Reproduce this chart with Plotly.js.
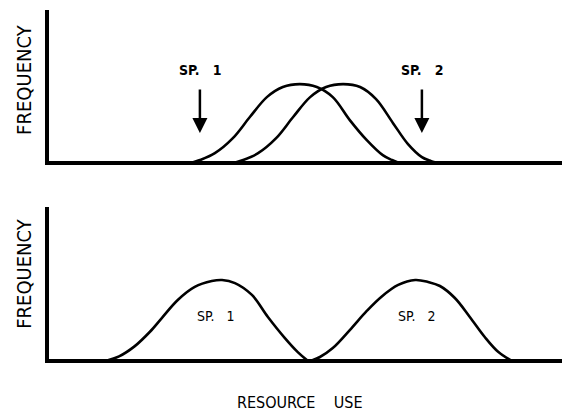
<!DOCTYPE html>
<html lang="en">
<head>
    <meta charset="UTF-8">
    <title>Resource Use Overlap</title>
    <script src="https://cdn.plot.ly/plotly-3.0.1.min.js"></script>
    <style>
        body { margin: 0; padding: 0; background: white; }
        #plot { width: 562px; height: 412px; }
    </style>
</head>
<body>
    <div id="plot"></div>
    <script>
        // top panel: strong overlap (arbitrary resource / frequency units)
        const topSp1X = [27.8, 29.7, 32.6, 36.1, 39.4, 42.7, 45.8, 49.1, 52.4, 55.5, 58.8, 62.1, 65.2, 67.0, 68.5];
        const topSp1Y = [0, 0.2, 0.65, 1.63, 3.01, 4.31, 4.97, 5.16, 4.97, 4.31, 2.81, 1.5, 0.52, 0.2, 0];
        const topSp2X = [36.1, 38.1, 41.0, 44.5, 47.8, 51.1, 54.2, 57.5, 60.8, 63.9, 67.2, 70.1, 72.8, 74.6, 75.9];
        const topSp2Y = [0, 0.2, 0.65, 1.63, 3.01, 4.31, 4.97, 5.16, 4.97, 4.18, 2.61, 1.24, 0.39, 0.13, 0];

        // bottom panel: separated niches
        const botSp1X = [11.3, 14.0, 17.0, 20.0, 22.3, 25.4, 28.7, 32.0, 34.0, 36.5, 39.8, 42.9, 46.2, 48.7, 50.7];
        const botSp1Y = [0, 0.3, 0.95, 1.9, 2.79, 3.96, 4.81, 5.19, 5.26, 5.06, 4.29, 2.86, 1.49, 0.58, 0];
        const botSp2X = [51.1, 53.0, 55.5, 58.8, 62.1, 64.9, 68.2, 71.5, 74.0, 76.3, 79.2, 82.1, 85.0, 87.6, 90.3];
        const botSp2Y = [0, 0.26, 0.84, 2.01, 3.25, 4.16, 4.94, 5.26, 5.13, 4.87, 4.09, 2.86, 1.56, 0.6, 0];

        // species means marked with arrows (top), label spots (bottom)
        const speciesNames = ['SP.\u00a0\u00a0\u00a01', 'SP.\u00a0\u00a0\u00a02'];
        const arrowX = [29.7, 72.8];
        const arrowTipY = [1.96, 1.96];
        const botLabelX = [32.8, 71.7];
        const botLabelY = [2.9, 2.9];

        const FONT = "'DejaVu Sans Condensed', 'Liberation Sans', Arial, sans-serif";

        function curve(x, y, xa, ya) {
            return {
                x: x, y: y, xaxis: xa, yaxis: ya,
                type: 'scatter', mode: 'lines',
                line: {color: '#000', width: 2.6, shape: 'spline', smoothing: 1},
                hoverinfo: 'skip', showlegend: false
            };
        }

        const traces = [
            curve(topSp1X, topSp1Y, 'x', 'y'),
            curve(topSp2X, topSp2Y, 'x', 'y'),
            curve(botSp1X, botSp1Y, 'x2', 'y2'),
            curve(botSp2X, botSp2Y, 'x2', 'y2')
        ];

        const annotations = [];

        // top: labels with down arrows
        speciesNames.forEach((name, i) => {
            annotations.push({
                x: arrowX[i], y: arrowTipY[i], xref: 'x', yref: 'y',
                text: name,
                showarrow: true, arrowhead: 2, arrowsize: 1.2, arrowwidth: 2.5,
                arrowcolor: '#000', ax: 0, ay: -63, startstandoff: 10,
                font: {family: FONT, size: 14, color: '#000', weight: 'bold'}
            });
        });

        // bottom: labels inside the curves
        speciesNames.forEach((name, i) => {
            annotations.push({
                x: botLabelX[i], y: botLabelY[i], xref: 'x2', yref: 'y2',
                text: name, showarrow: false,
                font: {family: FONT, size: 14, color: '#000'}
            });
        });

        // axis titles
        annotations.push({
            text: 'FREQUENCY', textangle: -90, showarrow: false,
            xref: 'paper', yref: 'y domain', x: -0.049, y: 0.543,
            xanchor: 'center', yanchor: 'middle',
            font: {family: FONT, size: 20, color: '#000'}
        });
        annotations.push({
            text: 'FREQUENCY', textangle: -90, showarrow: false,
            xref: 'paper', yref: 'y2 domain', x: -0.049, y: 0.566,
            xanchor: 'center', yanchor: 'middle',
            font: {family: FONT, size: 20, color: '#000'}
        });
        annotations.push({
            text: 'RESOURCE\u00a0\u00a0\u00a0\u00a0USE', showarrow: false,
            xref: 'paper', yref: 'paper', x: 0.489, y: -0.126,
            xanchor: 'center', yanchor: 'middle',
            font: {family: FONT, size: 16, color: '#000'}
        });

        const axisX = {
            range: [0.4, 100], showgrid: false, zeroline: false,
            showticklabels: false, ticks: '',
            showline: true, linecolor: '#000', linewidth: 4
        };
        const axisY = {
            range: [0.13, 10], showgrid: false, zeroline: false,
            showticklabels: false, ticks: '',
            showline: true, linecolor: '#000', linewidth: 4
        };

        const layout = {
            width: 562, height: 412,
            margin: {l: 49, r: 0, t: 10, b: 53},
            paper_bgcolor: 'white', plot_bgcolor: 'white',
            showlegend: false,
            xaxis: Object.assign({}, axisX, {anchor: 'y'}),
            yaxis: Object.assign({}, axisY, {anchor: 'x', domain: [0.567, 1]}),
            xaxis2: Object.assign({}, axisX, {anchor: 'y2'}),
            yaxis2: Object.assign({}, axisY, {anchor: 'x2', domain: [0, 0.4355]}),
            annotations: annotations
        };

        Plotly.newPlot('plot', traces, layout, {displayModeBar: false, staticPlot: true});
    </script>
</body>
</html>
